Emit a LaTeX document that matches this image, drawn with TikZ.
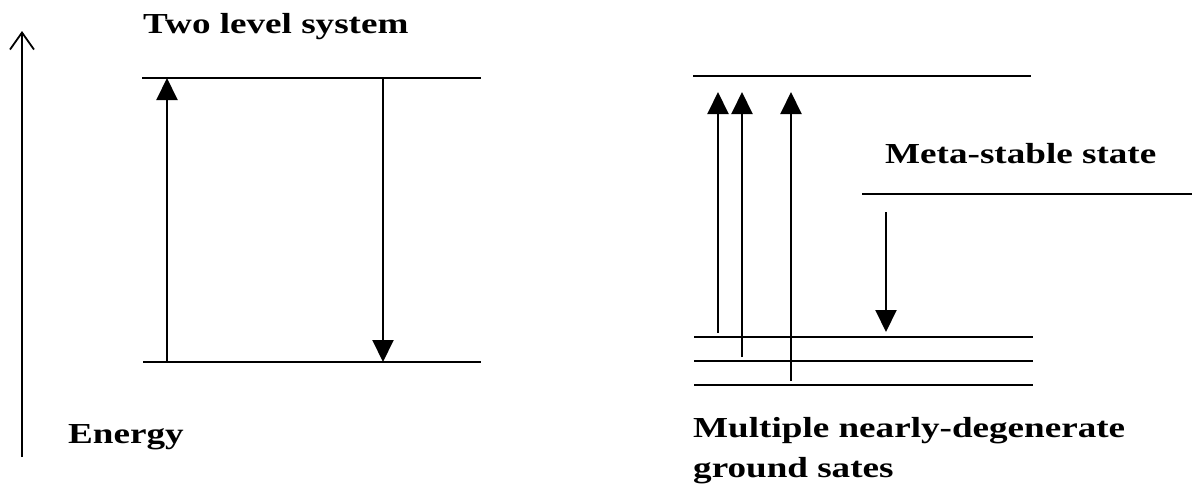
\documentclass[tikz,border=0pt]{standalone}
\usepackage{fontspec}
\setmainfont{Liberation Serif}
\newfontfamily\labfont[FakeStretch=1.28]{Liberation Serif}
\usetikzlibrary{arrows.meta}
\tikzset{
  level/.style={line width=2.4pt},
  trans/.style={line width=2pt,-{Triangle[length=22pt,width=21pt]}},
  axis/.style={line width=1.8pt,-{Straight Barb[length=17pt,width=24pt,line width=1.8pt]}},
  lab/.style={inner sep=0pt,anchor=base west,align=left,font=\labfont\bfseries\fontsize{29}{40}\selectfont}
}
\begin{document}
\begin{tikzpicture}[x=1pt,y=-1pt]
\useasboundingbox (0,0) rectangle (1192,496);
% energy axis
\coordinate (eb) at (22,457);
\coordinate (et) at (22,31);
\draw[axis] (eb) -- (et);
\node[lab] (energy) at (68,443) {Energy};
% two level system
\node[lab] (twolev) at (143,33) {Two level system};
\coordinate (lt1) at (142,78); \coordinate (lt2) at (481,78);
\coordinate (lb1) at (143,362); \coordinate (lb2) at (481,362);
\draw[level] (lt1) -- (lt2);
\draw[level] (lb1) -- (lb2);
\coordinate (ua0) at (167,362); \coordinate (ua1) at (167,78);
\coordinate (da0) at (383,78); \coordinate (da1) at (383,362);
\draw[trans] (ua0) -- (ua1);
\draw[trans] (da0) -- (da1);
% multi-level system
\coordinate (rt1) at (693,76); \coordinate (rt2) at (1031,76);
\draw[level] (rt1) -- (rt2);
\node[lab] (meta) at (885,163) {Meta-stable state};
\coordinate (m1) at (862,194); \coordinate (m2) at (1192,194);
\draw[level] (m1) -- (m2);
\coordinate (g11) at (694,337); \coordinate (g12) at (1033,337);
\coordinate (g21) at (694,361); \coordinate (g22) at (1033,361);
\coordinate (g31) at (694,385); \coordinate (g32) at (1033,385);
\draw[level] (g11) -- (g12);
\draw[level] (g21) -- (g22);
\draw[level] (g31) -- (g32);
\coordinate (a1b) at (718,333); \coordinate (a1t) at (718,92);
\coordinate (a2b) at (742,357); \coordinate (a2t) at (742,92);
\coordinate (a3b) at (791,381); \coordinate (a3t) at (791,92);
\draw[trans] (a1b) -- (a1t);
\draw[trans] (a2b) -- (a2t);
\draw[trans] (a3b) -- (a3t);
\coordinate (dt) at (886,212); \coordinate (db) at (886,332);
\draw[trans] (dt) -- (db);
\node[lab] (ground) at (693,477) {Multiple nearly-degenerate\\ground sates};
\end{tikzpicture}
\end{document}
